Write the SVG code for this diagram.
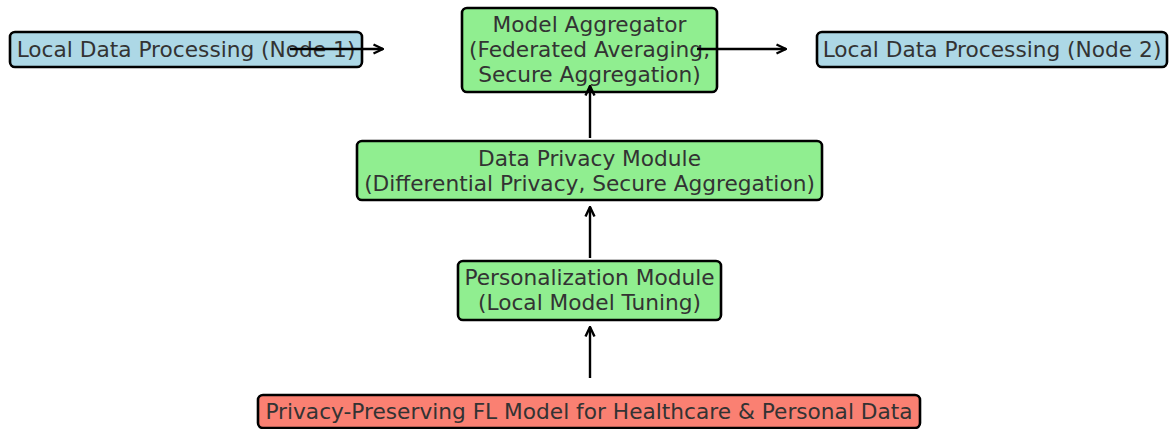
<svg xmlns="http://www.w3.org/2000/svg" width="1171" height="429" viewBox="0 0 1171 429">
  <style>
    .box { stroke: #000; stroke-width: 2.6; }
    .blue { fill: #add8e6; }
    .green { fill: #90ee90; }
    .red { fill: #fa8072; }
    text { font-family: "DejaVu Sans", sans-serif; font-size: 21.7px; fill: #333; text-anchor: middle; dominant-baseline: central; }
    .link { stroke: #000; stroke-width: 2.4; fill: none; marker-end: url(#head); }
  </style>
  <defs>
    <marker id="head" viewBox="0 0 12 12" refX="11" refY="6" markerWidth="12" markerHeight="12" markerUnits="userSpaceOnUse" orient="auto">
      <path d="M1.5,1.5 L11,6 L1.5,10.5" fill="none" stroke="#000" stroke-width="2.4"/>
    </marker>
  </defs>
  <rect width="1171" height="429" fill="#fff"/>

  <g id="node-local-1">
    <rect class="box blue" x="10" y="32" width="352" height="35" rx="5"/>
    <text x="186" y="49">Local Data Processing (Node 1)</text>
  </g>
  <g id="node-aggregator">
    <rect class="box green" x="462" y="8" width="255" height="84" rx="5"/>
    <text x="589.5" y="24">Model Aggregator</text>
    <text x="589.5" y="49">(Federated Averaging,</text>
    <text x="589.5" y="74">Secure Aggregation)</text>
  </g>
  <g id="node-local-2">
    <rect class="box blue" x="817" y="32" width="350" height="35" rx="5"/>
    <text x="992" y="49">Local Data Processing (Node 2)</text>
  </g>
  <g id="node-privacy">
    <rect class="box green" x="357" y="141" width="465" height="59" rx="5"/>
    <text x="589.5" y="158">Data Privacy Module</text>
    <text x="589.5" y="183">(Differential Privacy, Secure Aggregation)</text>
  </g>
  <g id="node-personalization">
    <rect class="box green" x="458" y="261" width="263" height="59" rx="5"/>
    <text x="589.5" y="277">Personalization Module</text>
    <text x="589.5" y="302">(Local Model Tuning)</text>
  </g>
  <g id="node-root">
    <rect class="box red" x="258" y="395" width="662" height="33" rx="5"/>
    <text x="589" y="411">Privacy-Preserving FL Model for Healthcare &amp; Personal Data</text>
  </g>

  <g id="connectors">
    <line class="link" x1="290" y1="49" x2="383" y2="49"/>
    <line class="link" x1="697" y1="49" x2="786" y2="49"/>
    <line class="link" x1="590" y1="138" x2="590" y2="86"/>
    <line class="link" x1="590" y1="258" x2="590" y2="207"/>
    <line class="link" x1="590" y1="378" x2="590" y2="327"/>
  </g>
</svg>
